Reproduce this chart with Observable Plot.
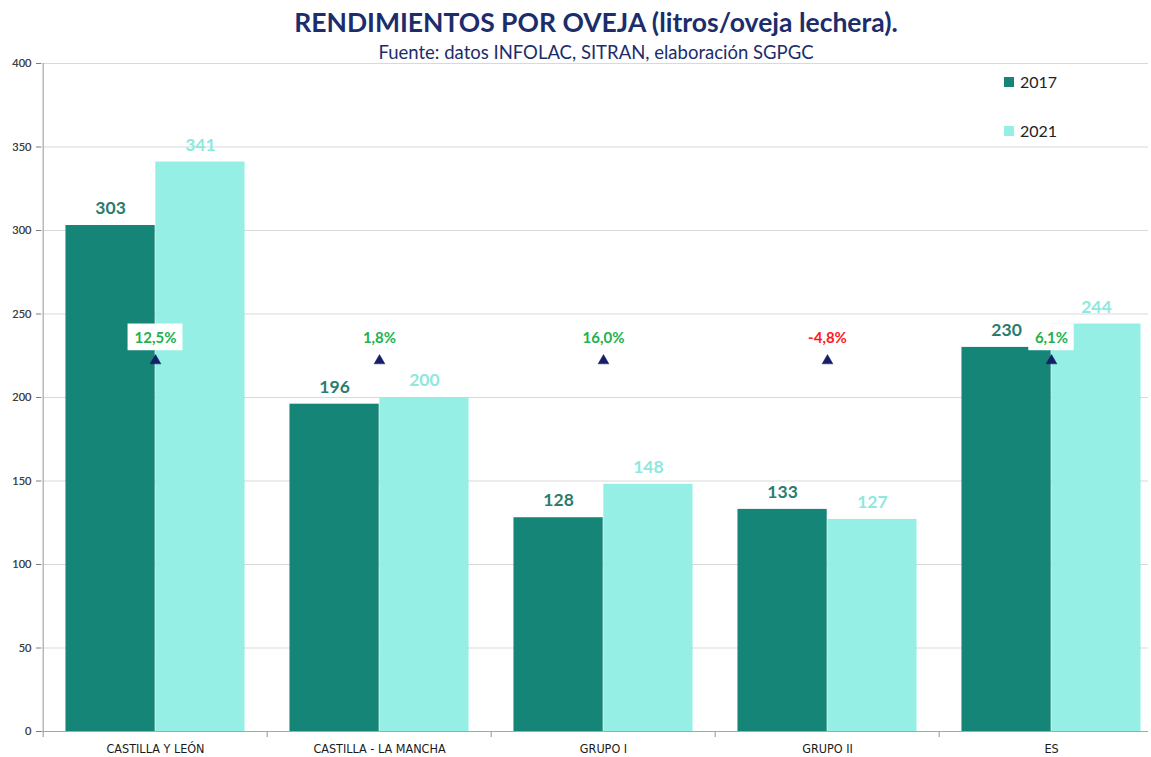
<!DOCTYPE html>
<html><head><meta charset="utf-8">
<script src="https://cdn.jsdelivr.net/npm/d3@7"></script>
<script src="https://cdn.jsdelivr.net/npm/@observablehq/plot@0.6"></script>
<style>
body{margin:0;background:#fff;font-family:Lato,"Open Sans",sans-serif;}
#wrap{position:relative;width:1151px;height:757px;overflow:hidden;background:#fff}
#title{position:absolute;left:41px;right:0;top:6px;text-align:center;font-weight:bold;font-size:26.5px;color:#1c2d6b;line-height:32px;white-space:nowrap}
#subtitle{position:absolute;left:41px;right:0;top:40px;text-align:center;font-size:18.5px;color:#1c2d6b;line-height:24px;white-space:nowrap;z-index:2}
#chart{position:absolute;left:0;top:55px}
.leg{position:absolute;left:1004px;font-size:16px;color:#222;display:flex;align-items:center;z-index:2}
.leg span.sw{display:inline-block;width:10px;height:10px;margin-right:6px}
</style></head>
<body>
<div id="wrap">
  <div id="chart"></div>
  <div id="title">RENDIMIENTOS POR OVEJA (litros/oveja lechera).</div>
  <div id="subtitle">Fuente: datos INFOLAC, SITRAN, elaboración SGPGC</div>
  <div id="legend"></div>
</div>
<script>
const categories = ["CASTILLA Y LEÓN", "CASTILLA - LA MANCHA", "GRUPO I", "GRUPO II", "ES"];
const years = ["2017", "2021"];
const values2017 = [303, 196, 128, 133, 230];
const values2021 = [341, 200, 148, 127, 244];
const pctChange = [12.5, 1.8, 16.0, -4.8, 6.1];
const yTicks = [0, 50, 100, 150, 200, 250, 300, 350, 400];
const markerLevel = 222;
const pctLabelLevel = 235.5;
const pctBoxLow = 228;
const pctBoxHigh = 244;

const barColors = {"2017": "#148576", "2021": "#96efe4"};
const valueLabelColors = {"2017": "#2b7b6f", "2021": "#8de8de"};

const rows2017 = categories.map((c, i) => ({cat: c, year: "2017", v: values2017[i]}));
const rows2021 = categories.map((c, i) => ({cat: c, year: "2021", v: values2021[i]}));
const pctRows = categories.map((c, i) => ({
  cat: c, p: pctChange[i],
  label: pctChange[i].toFixed(1).replace(".", ",") + "%"
}));

const W = 1151, H = 702, ML = 41, MR = 3, MT = 8, MB = 26;
const xRange = [41.5, 1164.5];
const bw = (xRange[1] - xRange[0]) / categories.length;
const pad = 0.1 * bw;
const half = (bw - 2 * pad) / 2;

const boxMarks = pctRows.map(r => {
  const boxW = r.label.length * 9.5 + 8;
  const ins = (bw - boxW) / 2;
  return Plot.barY([r], {x: "cat", y1: () => pctBoxLow, y2: () => pctBoxHigh, fill: "white", insetLeft: ins, insetRight: ins});
});

const plot = Plot.plot({
  width: W, height: H,
  marginLeft: ML, marginRight: MR, marginTop: MT, marginBottom: MB,
  style: {fontFamily: "Lato, 'Open Sans', sans-serif", background: "white", overflow: "visible"},
  x: {domain: categories, range: xRange, padding: 0, label: null},
  y: {domain: [0, 400], label: null},
  marks: [
    Plot.ruleY(yTicks.slice(1), {stroke: "#d9d9d9", strokeWidth: 1}),
    Plot.barY(rows2017, {x: "cat", y: "v", fill: barColors["2017"], insetLeft: pad, insetRight: pad + half}),
    Plot.barY(rows2021, {x: "cat", y: "v", fill: barColors["2021"], insetLeft: pad + half, insetRight: pad}),
    Plot.ruleY([0], {stroke: "#a6a6a6", strokeWidth: 1.2}),
    Plot.ruleX(categories, {x: d => d, y1: 0, y2: -3.6, dx: -bw / 2, stroke: "#a6a6a6", strokeWidth: 1.2}),
    Plot.ruleX([categories[0]], {x: d => d, y1: 0, y2: 400, dx: -bw / 2, stroke: "#a6a6a6", strokeWidth: 1.2}),
    Plot.axisY({ticks: yTicks, tickSize: 5, tickPadding: 5, fontSize: 11, color: "#7f7f7f", tickFormat: d => d}),
    Plot.axisY({ticks: yTicks, tickSize: 0, tickPadding: 10, fontSize: 11, fill: "#404040", tickFormat: d => d}),
    Plot.axisX({tickSize: 0, tickPadding: 13, fontSize: 12.5, fill: "#1a1a1a", fontFamily: "'Liberation Sans Narrow', 'DejaVu Sans Condensed', sans-serif"}),
    Plot.text(rows2017, {x: "cat", y: "v", text: d => d.v, dx: -half / 2, dy: -17, fill: valueLabelColors["2017"], fontSize: 17.5, fontWeight: "bold"}),
    Plot.text(rows2021, {x: "cat", y: "v", text: d => d.v, dx: half / 2, dy: -17, fill: valueLabelColors["2021"], fontSize: 17.5, fontWeight: "bold"}),
    ...boxMarks,
    Plot.text(pctRows, {x: "cat", y: () => pctLabelLevel, text: "label", fill: d => d.p < 0 ? "#ff1a1a" : "#22b14c", fontSize: 15, fontWeight: "bold"}),
    Plot.dot(pctRows, {x: "cat", y: () => markerLevel, symbol: "triangle", r: 4, fill: "#141f66", stroke: "#141f66", strokeWidth: 0.5})
  ]
});
document.getElementById("chart").appendChild(plot);

const legend = document.getElementById("legend");
const legendTops = [72, 121];
years.forEach((y, i) => {
  const d = document.createElement("div");
  d.className = "leg";
  d.style.top = legendTops[i] + "px";
  d.innerHTML = `<span class="sw" style="background:${barColors[y]}"></span>${y}`;
  legend.appendChild(d);
});
</script>
</body></html>
